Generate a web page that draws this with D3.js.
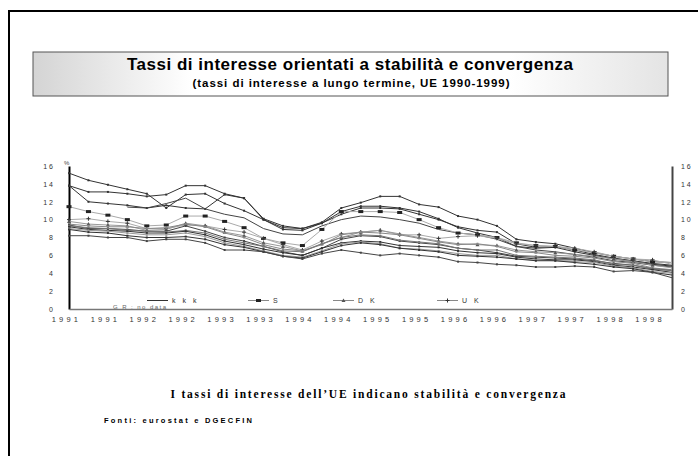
<!DOCTYPE html>
<html>
<head>
<meta charset="utf-8">
<script src="https://cdn.jsdelivr.net/npm/d3@7/dist/d3.min.js"></script>
<style>
body { margin: 0; background: #fff; }
text { font-family: Arial, "Liberation Sans", sans-serif; }
</style>
</head>
<body>
<script>
// trimestri 1991-1998
var quarters = ["91T1","91T2","91T3","91T4","92T1","92T2","92T3","92T4",
                "93T1","93T2","93T3","93T4","94T1","94T2","94T3","94T4",
                "95T1","95T2","95T3","95T4","96T1","96T2","96T3","96T4",
                "97T1","97T2","97T3","97T4","98T1","98T2","98T3","98T4"];
var tickLabels = ["1991","1991","1992","1992","1993","1993","1994","1994",
                  "1995","1995","1996","1996","1997","1997","1998","1998"];
var yTicks = [0, 2, 4, 6, 8, 10, 12, 14, 16];

var P   = [15.2,14.4,13.9,13.4,12.9,11.3,12.8,12.9,11.8,11.0,10.0,9.1,9.0,9.7,11.3,11.9,12.6,12.6,11.7,11.4,10.4,10.0,9.3,7.8,7.5,7.3,6.8,6.3,5.9,5.6,5.3,5.2];
var I   = [13.8,13.1,13.1,12.9,12.6,12.8,13.8,13.8,12.9,12.4,10.1,9.3,9.0,9.6,10.9,11.5,11.5,11.3,10.9,10.1,9.1,8.5,8.0,7.0,6.8,6.9,6.4,6.0,5.6,5.3,5.0,4.8];
var E   = [13.8,12.0,11.8,11.6,11.3,11.6,11.3,11.2,12.8,12.4,10.0,8.9,8.8,9.6,10.6,11.3,11.3,11.2,10.6,10.0,9.2,8.8,8.6,7.3,6.9,7.0,6.6,6.1,5.7,5.4,5.1,4.9];
var FIN = [null,null,null,11.4,11.3,11.8,12.4,11.2,10.6,10.2,9.0,8.4,8.3,9.3,10.0,10.4,10.3,10.0,9.6,8.9,8.5,8.3,7.8,7.0,6.6,6.4,6.1,5.8,5.4,5.2,4.9,4.7];
var S   = [11.45,10.9,10.5,10.0,9.3,9.4,10.4,10.4,9.8,9.1,7.9,7.4,7.1,8.9,10.9,10.9,10.9,10.8,10.0,9.1,8.5,8.3,8.0,7.4,7.1,7.0,6.6,6.3,5.9,5.6,5.3,5.2];
var UK  = [10.0,10.1,9.8,9.6,9.0,9.0,9.4,9.3,8.9,8.6,7.9,7.2,6.6,7.6,8.4,8.6,8.8,8.3,8.3,7.9,8.1,8.2,7.9,7.3,7.1,7.0,6.8,6.4,5.9,5.6,5.5,5.0];
var DK  = [9.8,9.5,9.4,9.3,8.8,8.9,9.6,9.3,8.6,8.2,7.4,7.0,6.5,7.3,8.0,8.6,8.8,8.4,8.0,7.6,7.3,7.2,7.1,6.6,6.4,6.3,6.1,5.9,5.6,5.3,4.9,4.6];
var IRL = [9.5,9.3,9.2,9.2,9.0,9.1,9.5,9.2,8.5,8.0,7.2,6.7,6.5,7.2,8.3,8.6,8.5,8.3,7.9,7.5,7.2,7.3,7.0,6.4,6.3,6.0,5.9,5.7,5.3,5.1,4.6,4.4];
var F   = [9.4,9.0,9.0,8.9,8.7,8.7,9.3,8.7,8.0,7.6,7.0,6.4,6.0,6.8,7.8,8.2,8.1,7.6,7.4,7.2,6.8,6.6,6.3,5.9,5.8,5.7,5.6,5.4,5.1,4.9,4.5,4.3];
var B   = [9.3,9.1,9.0,8.8,8.7,8.6,8.8,8.5,7.8,7.4,7.0,6.5,6.4,7.3,8.0,8.3,8.2,7.7,7.5,7.3,6.8,6.6,6.6,6.0,5.9,5.8,5.7,5.5,5.0,4.9,4.5,4.3];
var A   = [9.2,8.9,8.8,8.7,8.5,8.5,8.7,8.3,7.6,7.2,6.7,6.3,6.0,6.8,7.4,7.6,7.5,7.1,7.0,6.9,6.5,6.3,6.2,5.8,5.6,5.5,5.5,5.3,4.9,4.7,4.4,4.1];
var NL  = [9.0,8.8,8.7,8.5,8.3,8.3,8.5,8.1,7.4,7.0,6.5,6.0,5.8,6.5,7.3,7.5,7.3,6.8,6.7,6.5,6.2,6.0,6.0,5.6,5.5,5.4,5.3,5.2,4.8,4.6,4.2,4.0];
var D   = [8.9,8.6,8.5,8.2,8.0,8.0,8.1,7.8,7.2,6.9,6.4,5.9,5.7,6.4,7.1,7.4,7.2,6.8,6.6,6.4,6.0,5.9,5.8,5.6,5.4,5.4,5.2,5.0,4.7,4.5,4.1,3.8];
var L   = [8.2,8.2,8.0,8.0,7.6,7.8,7.8,7.4,6.6,6.6,6.4,5.9,5.6,6.2,6.6,6.3,6.0,6.2,6.0,5.8,5.3,5.2,5.0,4.9,4.7,4.7,4.8,4.7,4.2,4.3,4.1,3.5];

var countries = ["P","I","E","FIN","S","UK","DK","IRL","F","B","A","NL","D","L"];
var values = [P, I, E, FIN, S, UK, DK, IRL, F, B, A, NL, D, L];

// stile di ogni serie (colore linea, marcatore)
var looks = {
    P:   {c: "#333", m: "dot"},
    I:   {c: "#333", m: "dot"},
    E:   {c: "#333", m: "dot"},
    FIN: {c: "#444", m: "none"},
    S:   {c: "#aaa", m: "square"},
    UK:  {c: "#aaa", m: "star"},
    DK:  {c: "#999", m: "tri"},
    IRL: {c: "#888", m: "dot"},
    F:   {c: "#444", m: "dot"},
    B:   {c: "#777", m: "dot"},
    A:   {c: "#333", m: "dot"},
    NL:  {c: "#999", m: "dot"},
    D:   {c: "#333", m: "dot"},
    L:   {c: "#444", m: "dot"}
};

var legendItems = [
    {name: "k k k", m: "none"},
    {name: "S", m: "square"},
    {name: "D K", m: "tri"},
    {name: "U K", m: "star"}
];

var W = 698, H = 456;
var svg = d3.select("body").append("svg")
    .attr("width", W)
    .attr("height", H);

// cornice esterna
svg.append("rect")
    .attr("x", 9).attr("y", 11)
    .attr("width", 700).attr("height", 460)
    .attr("fill", "none")
    .attr("stroke", "#000")
    .attr("stroke-width", 2);

// riquadro titolo
var grad = svg.append("defs").append("linearGradient")
    .attr("id", "tg").attr("x1", 0).attr("x2", 1).attr("y1", 0).attr("y2", 0);
grad.append("stop").attr("offset", "0%").attr("stop-color", "#d4d4d4");
grad.append("stop").attr("offset", "25%").attr("stop-color", "#fff");
grad.append("stop").attr("offset", "75%").attr("stop-color", "#fff");
grad.append("stop").attr("offset", "100%").attr("stop-color", "#e4e4e4");

svg.append("rect")
    .attr("x", 33).attr("y", 52)
    .attr("width", 635).attr("height", 44)
    .attr("fill", "url(#tg)")
    .attr("stroke", "#555")
    .attr("stroke-width", 1);

svg.append("text")
    .attr("x", 350).attr("y", 70)
    .attr("text-anchor", "middle")
    .attr("font-size", 17).attr("font-weight", "bold")
    .attr("textLength", 446).attr("lengthAdjust", "spacing")
    .text("Tassi di interesse orientati a stabilità e convergenza");

svg.append("text")
    .attr("x", 351).attr("y", 87)
    .attr("text-anchor", "middle")
    .attr("font-size", 11.5).attr("font-weight", "bold")
    .attr("textLength", 317).attr("lengthAdjust", "spacing")
    .text("(tassi di interesse a lungo termine, UE 1990-1999)");

// scale
var x = d3.scaleLinear().domain([0, quarters.length - 1]).range([69, 672]);
var y = d3.scaleLinear().domain([0, 16]).range([309, 166]);

// assi
var axL = svg.append("g").attr("transform", "translate(69,0)")
    .call(d3.axisLeft(y).tickValues(yTicks).tickSize(0).tickPadding(16)
        .tickFormat(function(d) { return String(d).split("").join(" "); }));
axL.select(".domain").attr("stroke", "#000").attr("stroke-width", 2);
axL.selectAll("text").attr("font-size", 7).attr("fill", "#333")
    .attr("font-family", "Arial, sans-serif");

var axR = svg.append("g").attr("transform", "translate(672,0)")
    .call(d3.axisRight(y).tickValues(yTicks).tickSize(0).tickPadding(9)
        .tickFormat(function(d) { return String(d).split("").join(" "); }));
axR.select(".domain").attr("stroke", "#444").attr("stroke-width", 2);
axR.selectAll("text").attr("font-size", 7).attr("fill", "#333")
    .attr("font-family", "Arial, sans-serif");

var axB = svg.append("g").attr("transform", "translate(0,309)")
    .call(d3.axisBottom(x)
        .tickValues(d3.range(0, quarters.length, 2))
        .tickSize(0).tickPadding(8)
        .tickFormat(function(d, i) { return tickLabels[i]; }));
axB.select(".domain").attr("stroke", "#777").attr("stroke-width", 1.5);
axB.selectAll("text")
    .attr("font-size", 7.5).attr("fill", "#333")
    .attr("letter-spacing", 3.2)
    .attr("dx", -3)
    .attr("font-family", "Arial, sans-serif");

svg.append("text")
    .attr("x", 64).attr("y", 165)
    .attr("font-size", 6).attr("fill", "#444")
    .text("%");

// linee
var line = d3.line()
    .defined(function(d) { return d != null; })
    .x(function(d, i) { return x(i); })
    .y(function(d) { return y(d); });

function drawMarker(g, type, cx, cy, col) {
    if (type === "square") {
        g.append("rect").attr("x", cx - 2.5).attr("y", cy - 1.5)
            .attr("width", 5).attr("height", 3).attr("fill", "#222");
    } else if (type === "tri") {
        g.append("path")
            .attr("d", "M" + (cx - 2) + "," + (cy + 1.5) + "L" + cx + "," + (cy - 2) + "L" + (cx + 2) + "," + (cy + 1.5) + "Z")
            .attr("fill", "#555");
    } else if (type === "star") {
        g.append("path")
            .attr("d", "M" + (cx - 2) + "," + cy + "H" + (cx + 2) + "M" + cx + "," + (cy - 2) + "V" + (cy + 2))
            .attr("stroke", "#333").attr("stroke-width", 1);
    } else if (type === "dot") {
        g.append("rect").attr("x", cx - 1).attr("y", cy - 1)
            .attr("width", 2).attr("height", 2).attr("fill", col);
    }
}

var plot = svg.append("g");
countries.forEach(function(c, k) {
    var look = looks[c];
    var g = plot.append("g").attr("class", "serie");
    g.append("path")
        .datum(values[k])
        .attr("d", line)
        .attr("fill", "none")
        .attr("stroke", look.c)
        .attr("stroke-width", 1);
    values[k].forEach(function(v, i) {
        if (v != null && i < quarters.length - 1) drawMarker(g, look.m, x(i), y(v), look.c);
    });
});

// legenda
var legX = [147, 248, 333, 437];
legendItems.forEach(function(d, i) {
    var g = svg.append("g");
    g.append("line")
        .attr("x1", legX[i]).attr("x2", legX[i] + 21)
        .attr("y1", 300.5).attr("y2", 300.5)
        .attr("stroke", i === 0 ? "#333" : "#888").attr("stroke-width", 1);
    drawMarker(g, d.m, legX[i] + 10.5, 300.5, "#333");
    g.append("text")
        .attr("x", legX[i] + 25).attr("y", 303)
        .attr("font-size", 7).attr("fill", "#333")
        .attr("letter-spacing", 2.5)
        .text(d.name);
});

svg.append("text")
    .attr("x", 113).attr("y", 308.5)
    .attr("font-size", 6).attr("fill", "#666")
    .attr("textLength", 53).attr("lengthAdjust", "spacing")
    .text("G R : no data");

// note in basso
svg.append("text")
    .attr("x", 368).attr("y", 398)
    .attr("text-anchor", "middle")
    .attr("font-size", 11.5).attr("font-weight", "bold")
    .attr("textLength", 395).attr("lengthAdjust", "spacing")
    .style("font-family", "'Liberation Serif', 'Times New Roman', serif")
    .text("I tassi di interesse dell’UE indicano stabilità e convergenza");

svg.append("text")
    .attr("x", 104).attr("y", 423)
    .attr("font-size", 7.5).attr("font-weight", "bold")
    .attr("textLength", 148).attr("lengthAdjust", "spacing")
    .text("Fonti: eurostat e DGECFIN");
</script>
</body>
</html>
